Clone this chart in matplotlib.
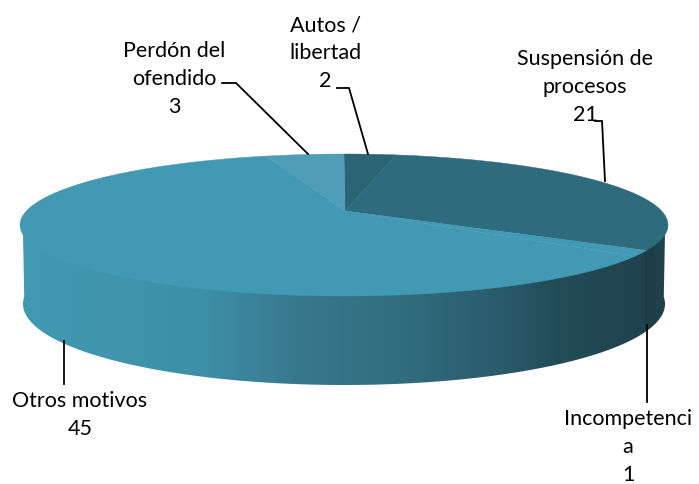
import numpy as np
import matplotlib
matplotlib.use("Agg")
import matplotlib.pyplot as plt
from matplotlib.colors import LinearSegmentedColormap
from matplotlib.patches import Polygon

categories = ["Autos /\nlibertad", "Suspensión de\nprocesos", "Incompetenci\na", "Otros motivos", "Perdón del\nofendido"]
values = [2, 21, 1, 45, 3]
top_colors = ["#2B6475", "#2F6B7E", "#4299B4", "#4299B4", "#509DB8"]
label_xy = [(325, 53), (585, 87), (628, 447), (80, 415), (174, 79)]
leaders = [
    [(337, 89), (349, 89), (368, 155)],
    [(595, 122), (602, 122), (605, 182)],
    [(647, 326), (647, 403)],
    [(63.5, 342), (63.5, 385)],
    [(222, 84), (236, 84), (308, 155)],
]

plt.rcParams["font.family"] = ["Lato", "DejaVu Sans"]
fig = plt.figure(figsize=(6.99, 4.85), dpi=100)
ax = fig.add_axes([0, 0, 1, 1])
ax.axis("off")

CX, CY, RX, RY = 344, 226, 324, 71
APEX = (345, 212)
BCY, BRX, BRY = 305, 321, 81


def warp(theta):
    return theta - 4.4 * np.sin(np.radians(theta))


def rim(phi, cy=CY, rx=RX, ry=RY):
    r = np.radians(phi)
    return np.column_stack([CX + rx * np.sin(r), cy - ry * np.cos(r)])


edges = np.concatenate([[0], np.cumsum(values)]) / sum(values) * 360.0
wall_map = LinearSegmentedColormap.from_list(
    "wall",
    [(0.0, "#4299B3"), (0.28, "#3E8FA8"), (0.43, "#37788D"), (0.59, "#326D80"),
     (0.74, "#2A5C6B"), (0.83, "#234C59"), (0.965, "#1F434E"), (0.967, "#1C3D48"), (1.0, "#1F434E")],
)
gradient = np.linspace(0, 1, 648).reshape(1, -1)

# Side wall: one gradient clipped to the part that faces the viewer
lo = max(warp(edges[0]), 85)
hi = min(warp(edges[-1]), 275)
phi = np.linspace(lo, hi, 400)
poly = np.vstack([rim(phi, CY, RX - 1.5, RY - 1.5), rim(phi, BCY, BRX, BRY)[::-1]])
patch = Polygon(poly, closed=True, transform=ax.transData, fc="none", ec="none")
ax.add_patch(patch)
im = ax.imshow(gradient, cmap=wall_map, extent=[20, 668, 400, 200], aspect="auto", zorder=1)
im.set_clip_path(patch)
ax.set_xlim(0, 699)
ax.set_ylim(485, 0)

# Top surface
for a, b, c in zip(edges[:-1], edges[1:], top_colors):
    phi = warp(np.linspace(a, b, 200))
    poly = np.vstack([[APEX], rim(phi)])
    ax.fill(poly[:, 0], poly[:, 1], color=c, lw=0.3, zorder=2)

# Leaders and labels
for pts in leaders:
    p = np.array(pts)
    ax.plot(p[:, 0], p[:, 1], color="black", lw=1.3, zorder=3, solid_joinstyle="miter")
for name, val, (x, y) in zip(categories, values, label_xy):
    ax.text(x, y, f"{name}\n{val}", ha="center", va="center", fontsize=15.5,
            color="black", linespacing=1.5, zorder=4)

fig.savefig("out.png", dpi=100)
